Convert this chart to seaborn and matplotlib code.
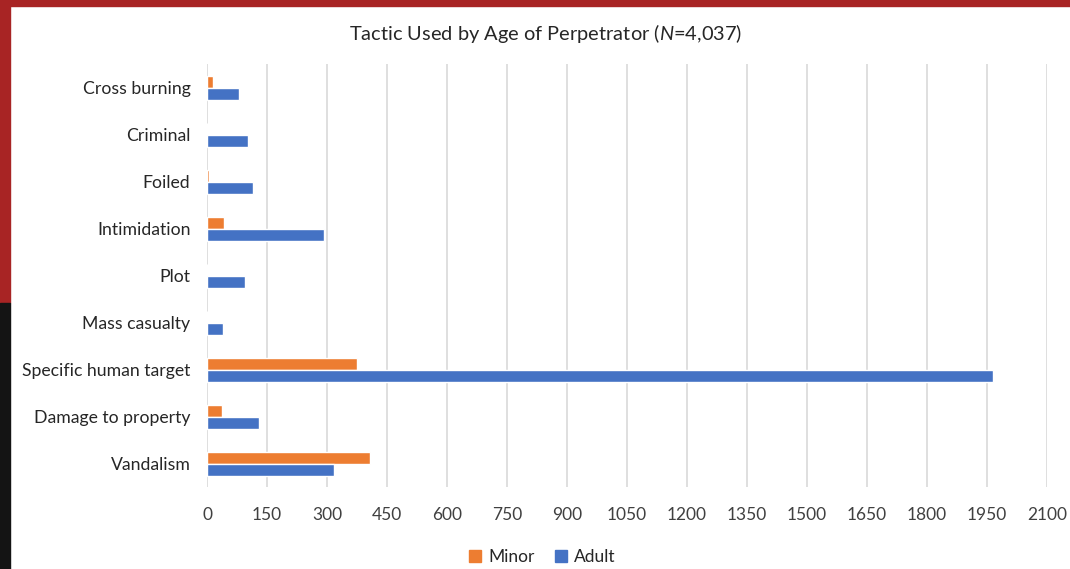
import pandas as pd
import matplotlib.pyplot as plt
import seaborn as sns
from matplotlib.patches import Rectangle

# data
tactics = ["Cross burning", "Criminal", "Foiled", "Intimidation", "Plot",
           "Mass casualty", "Specific human target", "Damage to property", "Vandalism"]
minor = [16, 0, 4, 43, 0, 0, 375, 38, 408]
adult = [79, 103, 115, 292, 96, 40, 1965, 130, 317]
x_ticks = list(range(0, 2101, 150))

df = pd.DataFrame({"Tactic": tactics * 2,
                   "Count": minor + adult,
                   "Age": ["Minor"] * len(tactics) + ["Adult"] * len(tactics)})

sns.set_theme(style="white")
plt.rcParams['font.family'] = ['Lato', 'DejaVu Sans']
plt.rcParams['mathtext.fontset'] = 'custom'
plt.rcParams['mathtext.it'] = 'Lato:italic'
plt.rcParams['mathtext.rm'] = 'Lato'

orange = "#ED7D31"
blue = "#4472C4"

fig = plt.figure(figsize=(10.7, 5.69), dpi=100)
# slide background strips
fig.patches.append(Rectangle((0, 0.4675), 0.0093, 0.5325, transform=fig.transFigure,
                             color="#A82424", zorder=0))
fig.patches.append(Rectangle((0, 0), 0.0093, 0.4675, transform=fig.transFigure,
                             color="#141414", zorder=0))
fig.patches.append(Rectangle((0, 0.9895), 1, 0.0105, transform=fig.transFigure,
                             color="#A82424", zorder=0))

ax = fig.add_axes([0.1935, 0.144, 0.785, 0.7435])
sns.barplot(data=df, x="Count", y="Tactic", hue="Age", orient="h",
            palette={"Minor": orange, "Adult": blue}, width=0.51, saturation=1,
            dodge=True, ax=ax, legend=False, errorbar=None)

ax.set_xlim(0, 2100)
ax.set_xticks(x_ticks)
ax.set_xticklabels([str(t) for t in x_ticks], fontsize=12.5, color="#404040")
ax.tick_params(axis="y", labelsize=12.7, labelcolor="#262626", length=0, pad=12)
ax.tick_params(axis="x", length=0, pad=14)
ax.set_xlabel("")
ax.set_ylabel("")
ax.grid(axis="x", color="#D9D9D9", linewidth=1.2)
ax.set_axisbelow(True)
for s in ax.spines.values():
    s.set_visible(False)

fig.text(0.510, 0.942, "Tactic Used by Age of Perpetrator ($\\mathit{N}$=4,037)",
         fontsize=14.4, color="#262626", ha="center", va="center")

handles = [Rectangle((0, 0), 1, 1, color=orange), Rectangle((0, 0), 1, 1, color=blue)]
fig.legend(handles, ["Minor", "Adult"], loc="center", bbox_to_anchor=(0.507, 0.021),
           ncol=2, frameon=False, fontsize=12.5, handlelength=0.7, handleheight=0.7,
           handletextpad=0.4, columnspacing=1.2)

fig.savefig("out.png", dpi=100)
